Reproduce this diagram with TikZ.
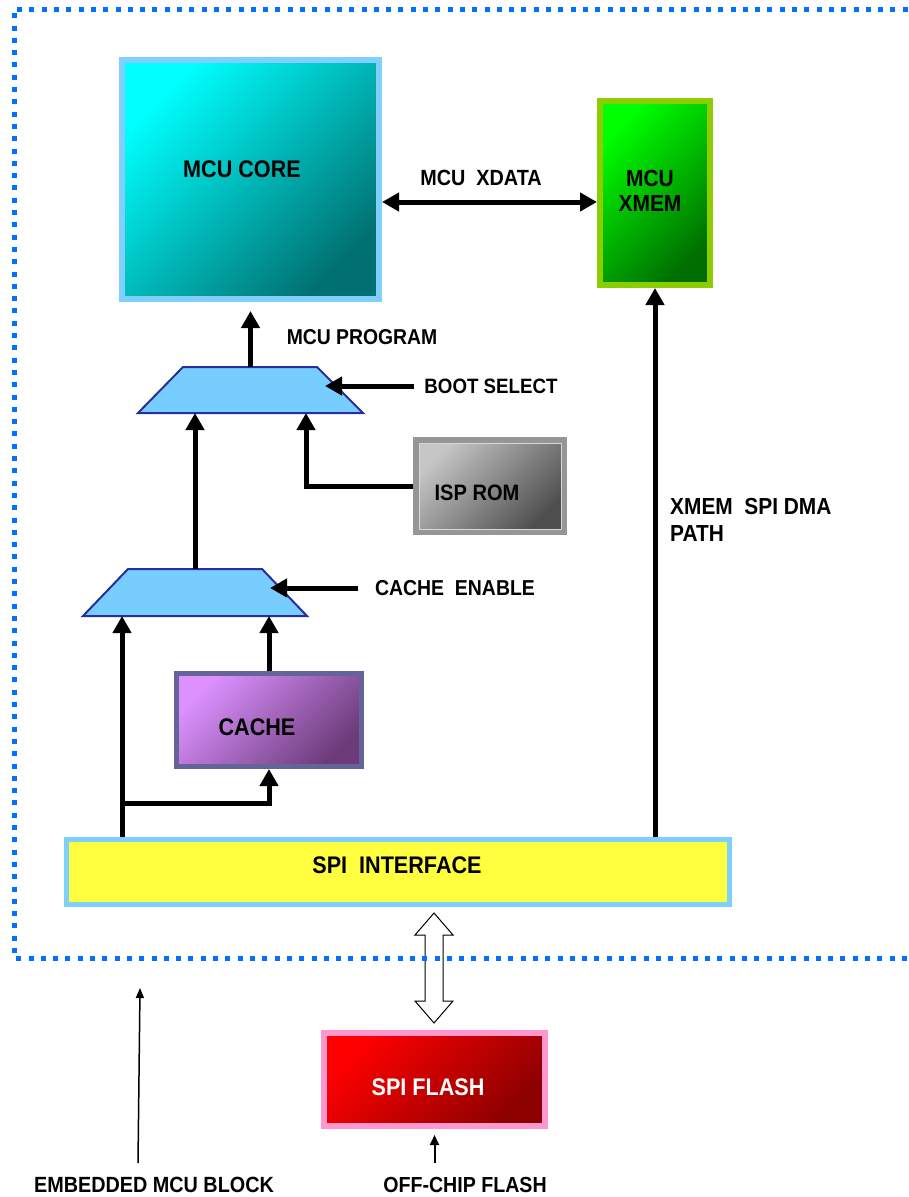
\documentclass[tikz,border=0pt]{standalone}
\usepackage{fontspec}
\setmainfont{Liberation Sans}[FakeStretch=0.9]
\usetikzlibrary{arrows.meta}
\definecolor{dotblue}{RGB}{0,112,255}
\definecolor{skyb}{RGB}{128,208,255}
\definecolor{corelight}{RGB}{0,255,255}
\definecolor{coredark}{RGB}{0,112,112}
\definecolor{xmemb}{RGB}{140,205,0}
\definecolor{xmemlight}{RGB}{0,255,0}
\definecolor{xmemmid}{RGB}{0,215,0}
\definecolor{xmemdark}{RGB}{0,110,0}
\definecolor{ispb}{RGB}{150,150,150}
\definecolor{isplight}{RGB}{198,198,198}
\definecolor{ispdark}{RGB}{78,78,78}
\definecolor{ispin}{RGB}{215,215,215}
\definecolor{cacheb}{RGB}{100,100,155}
\definecolor{cachelight}{RGB}{220,145,255}
\definecolor{cachedark}{RGB}{108,60,122}
\definecolor{spifill}{RGB}{255,255,64}
\definecolor{flashb}{RGB}{255,150,205}
\definecolor{flashlight}{RGB}{255,0,0}
\definecolor{flashmid}{RGB}{232,0,0}
\definecolor{flashdark}{RGB}{140,0,0}
\definecolor{muxfill}{RGB}{120,205,255}
\definecolor{muxdraw}{RGB}{40,45,160}
\begin{document}
\begin{tikzpicture}[x=1pt,y=-1pt,
  arr/.style={line width=5pt,-{Triangle[length=17pt,width=18pt]}},
  dblarr/.style={line width=5pt,{Triangle[length=17pt,width=18pt]}-{Triangle[length=17pt,width=18pt]}},
  thinarr/.style={line width=1.5pt,-{Triangle[length=10pt,width=8pt]}},
  midarr/.style={line width=2pt,-{Triangle[length=10pt,width=9pt]}},
  lbl/.style={font=\bfseries\fontsize{22}{26}\selectfont, inner sep=0pt},
  boxtxt/.style={font=\bfseries\fontsize{24}{28}\selectfont, inner sep=0pt},
  gbox/.style n args={3}{draw=#1, shade, top color=#2, bottom color=#3, shading angle=45, inner sep=0pt},
  muxshape/.style={fill=muxfill, draw=muxdraw, line width=2pt, line join=miter}
]
\useasboundingbox (0,0) rectangle (909,1197);

% boxes
\node[gbox={skyb}{corelight}{coredark}, line width=6pt, outer sep=3pt,
  minimum width=257pt, minimum height=239pt] (core) at (250.5,179.5) {};
\node[boxtxt] (coretxt) at (242,169) {MCU CORE};

\node[draw=xmemb, shade, top color=xmemlight, middle color=xmemmid, bottom color=xmemdark,
  shading angle=45, inner sep=0pt, line width=6pt, outer sep=3pt,
  minimum width=110pt, minimum height=184pt] (xmem) at (655,193) {};
\node[boxtxt, align=center, font=\bfseries\fontsize{23.3}{25}\selectfont] (xmemtxt) at (650,191) {MCU\\XMEM};

\node[gbox={ispb}{isplight}{ispdark}, line width=6pt, outer sep=3pt,
  minimum width=148pt, minimum height=92pt] (isp) at (490,486) {};
\draw[ispin, line width=1pt] ([shift={(6pt,-6pt)}]isp.north west) rectangle ([shift={(-6pt,6pt)}]isp.south east);
\node[boxtxt, font=\bfseries\fontsize{22.3}{26}\selectfont] (isptxt) at (477,493) {ISP ROM};

\node[gbox={cacheb}{cachelight}{cachedark}, line width=5pt, outer sep=2.5pt,
  minimum width=185pt, minimum height=93pt] (cache) at (269,720) {};
\node[boxtxt] (cachetxt) at (257,727) {CACHE};

\node[draw=skyb, fill=spifill, line width=5pt, outer sep=2.5pt, inner sep=0pt,
  minimum width=663pt, minimum height=65pt] (spi) at (398,872) {};
\node[boxtxt] (spitxt) at (397,865) {SPI~~INTERFACE};

\node[draw=flashb, shade, top color=flashlight, middle color=flashmid, bottom color=flashdark,
  shading angle=45, inner sep=0pt, line width=6pt, outer sep=3pt,
  minimum width=221pt, minimum height=93pt] (flash) at (434.5,1079.5) {};
\node[boxtxt, text=white] (flashtxt) at (428,1087) {SPI FLASH};

% multiplexers (trapezoids) and their anchor points
\draw[muxshape] (138,413) -- (183,367) -- (317,367) -- (363,413) -- cycle;
\coordinate (mux1top) at (250.5,367);
\coordinate (mux1bot) at (250.5,413);
\draw[muxshape] (83,616) -- (128,569) -- (262,569) -- (307,616) -- cycle;
\coordinate (mux2top) at (195,569);
\coordinate (mux2bot) at (195,616);

% labels
\node[lbl] (xdlbl) at (481,178) {MCU~~XDATA};
\node[lbl, font=\bfseries\fontsize{21.5}{26}\selectfont] (proglbl) at (362,337) {MCU PROGRAM};
\node[lbl, font=\bfseries\fontsize{20.8}{26}\selectfont] (bootlbl) at (491,386) {BOOT SELECT};
\node[lbl, font=\bfseries\fontsize{21.6}{26}\selectfont] (celbl) at (455,588) {CACHE~~ENABLE};
\node[lbl, anchor=west, align=left, font=\bfseries\fontsize{23.2}{27}\selectfont] (dmalbl) at (670,519.5) {XMEM~~SPI DMA\\PATH};
\node[lbl] (emblbl) at (154,1185) {EMBEDDED MCU BLOCK};
\node[lbl, font=\bfseries\fontsize{21.8}{26}\selectfont] (offlbl) at (465,1185) {OFF-CHIP FLASH};

% coordinates
\coordinate (xdy) at (0,202);
\coordinate (bootin) at (325,386);
\coordinate (cein) at (270,588);
\coordinate (m1r) at (306,413);
\coordinate (leftx) at (122,616);
\coordinate (branch) at (122,803);
\coordinate (embtail) at (138,1163);
\coordinate (embtip) at (140,988);
\coordinate (offtail) at (434.5,1163);

% connectors
\draw[dblarr] (core.east |- xdy) -- (xmem.west |- xdy);
\draw[arr, shorten >=9pt] (mux1top) -- (core.south);
\draw[arr] ([xshift=-10pt]bootlbl.west) -- (bootin);
\draw[arr] (mux2top) -- (mux2top |- mux1bot);
\draw[arr, line join=miter] (isp.west) -| (m1r);
\draw[arr] ([xshift=-17pt]celbl.west) -- (cein);
\draw[arr] (cache.north) -- (cache.north |- mux2bot);
\draw[arr] (spi.north -| leftx) -- (leftx);
\draw[arr, line join=miter] (branch) -| (cache.south);
\draw[arr] (spi.north -| xmem.south) -- (xmem.south);

% hollow double arrow between SPI interface and flash
\draw[black, line width=1pt, fill=white, line join=miter]
  (434,913) -- (453,935) -- (443,935) -- (443,1001) -- (453,1001) -- (434,1023)
  -- (415,1001) -- (425,1001) -- (425,935) -- (415,935) -- cycle;

% dotted border of the embedded block
\draw[dotblue, line width=5pt, dash pattern=on 5pt off 7.3pt]
  (920,9) -- (14,9) -- (14,958) -- (920,958);

% bottom pointers
\draw[thinarr] (embtail) -- (embtip);
\draw[midarr, shorten >=6pt] (offtail) -- (flash.south);
\end{tikzpicture}
\end{document}
